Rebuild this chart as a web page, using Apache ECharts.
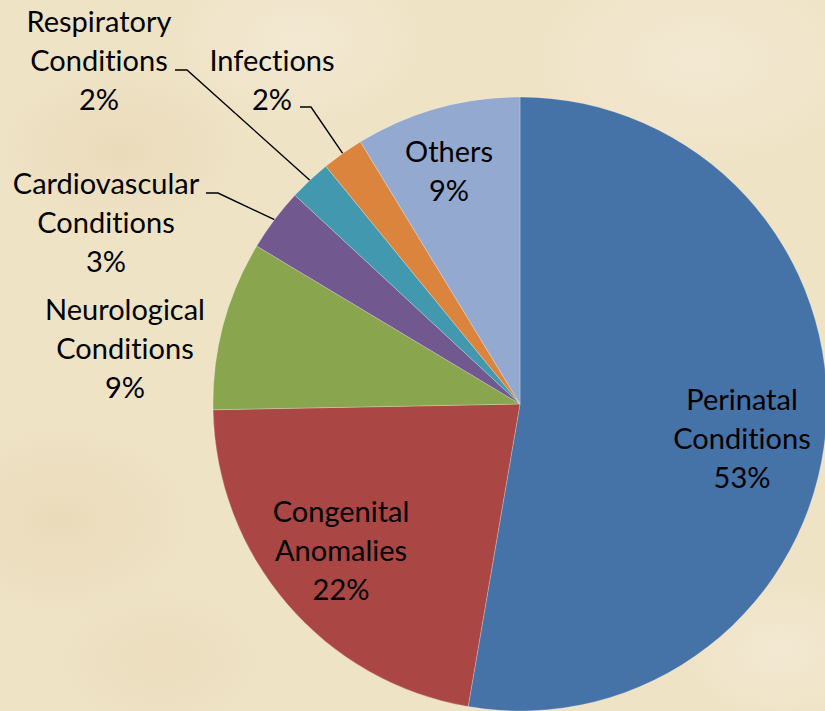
<!DOCTYPE html>
<html>
<head>
<meta charset="utf-8">
<script src="https://cdn.jsdelivr.net/npm/echarts@6/dist/echarts.min.js"></script>
<style>
  html, body { margin: 0; padding: 0; }
  body {
    width: 825px; height: 711px; overflow: hidden;
    background-color: #efe3c6;
    background-image:
      radial-gradient(ellipse 180px 120px at 120px 150px, rgba(222,200,158,0.3), rgba(222,200,158,0) 70%),
      radial-gradient(ellipse 200px 140px at 60px 520px, rgba(222,200,158,0.3), rgba(222,200,158,0) 70%),
      radial-gradient(ellipse 180px 120px at 300px 40px, rgba(247,240,224,0.5), rgba(247,240,224,0) 70%),
      radial-gradient(ellipse 240px 150px at 700px 60px, rgba(247,240,224,0.5), rgba(247,240,224,0) 70%),
      radial-gradient(ellipse 160px 110px at 160px 660px, rgba(228,210,172,0.3), rgba(228,210,172,0) 70%),
      radial-gradient(ellipse 140px 100px at 780px 650px, rgba(247,240,224,0.5), rgba(247,240,224,0) 70%);
  }
  #chart { width: 825px; height: 711px; }
  #chart text { font-variant-ligatures: none; font-feature-settings: "liga" 0, "clig" 0; }
</style>
</head>
<body>
<div id="chart"></div>
<script>
// ---- data ----
const categories = [
  'Perinatal\nConditions',
  'Congenital\nAnomalies',
  'Neurological\nConditions',
  'Cardiovascular\nConditions',
  'Respiratory\nConditions',
  'Infections',
  'Others'
];
const values = [52.7, 22.0, 8.9, 3.3, 2.2, 2.2, 8.7];
const colors = ['#4572A7', '#AA4643', '#89A54E', '#71588F', '#4198AF', '#DB843D', '#93A9CF'];

// ---- layout config (label anchors, leader-line elbows) ----
const pieCenter = [520, 404];
const pieRadius = 307;
const labelAnchors = [
  { x: 742, y: 437, inside: true },
  { x: 341, y: 549, inside: true },
  { x: 125, y: 347, inside: false },
  { x: 106, y: 221, inside: false, line: [[218, 193], [206, 193]] },
  { x: 99,  y: 59,  inside: false, line: [[187, 70], [175, 70]] },
  { x: 272, y: 79,  inside: false, line: [[311, 107], [300, 107]] },
  { x: 449, y: 170, inside: true }
];

const total = values.reduce((a, b) => a + b, 0);
const midAngles = [];
let cum = 0;
values.forEach(v => { midAngles.push((cum + v / 2) / total * 2 * Math.PI); cum += v; });

const data = categories.map((name, i) => ({
  name: name,
  value: values[i],
  itemStyle: { color: colors[i] },
  label: { position: labelAnchors[i].inside ? 'inside' : 'outside' },
  labelLine: { show: !!labelAnchors[i].line }
}));

const chart = echarts.init(document.getElementById('chart'), null, { renderer: 'svg' });
chart.setOption({
  backgroundColor: 'transparent',
  animation: false,
  series: [{
    type: 'pie',
    center: pieCenter,
    radius: pieRadius,
    startAngle: 90,
    clockwise: true,
    avoidLabelOverlap: false,
    silent: true,
    itemStyle: { borderColor: 'rgba(255,255,255,0.35)', borderWidth: 0.7 },
    label: {
      show: true,
      color: '#000',
      fontFamily: 'Lato',
      fontSize: 29,
      lineHeight: 39,
      align: 'center',
      formatter: p => p.name + '\n' + Math.round(p.percent) + '%'
    },
    labelLine: { lineStyle: { color: '#000', width: 1.4 }, length: 10, length2: 10 },
    labelLayout: function (params) {
      const i = params.dataIndex;
      const a = labelAnchors[i];
      const res = { x: a.x, y: a.y, align: 'center', verticalAlign: 'middle' };
      if (a.line) {
        const ang = midAngles[i];
        const edge = [pieCenter[0] + pieRadius * Math.sin(ang), pieCenter[1] - pieRadius * Math.cos(ang)];
        res.labelLinePoints = [edge, a.line[0], a.line[1]];
      }
      return res;
    },
    emphasis: { disabled: true },
    data: data
  }]
});
</script>
</body>
</html>
